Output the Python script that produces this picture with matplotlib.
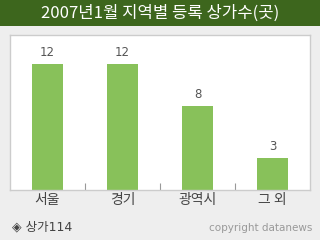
import matplotlib
matplotlib.use("Agg")
import matplotlib.pyplot as plt
from matplotlib.patches import Rectangle

plt.rcParams['font.family'] = ['Noto Sans CJK KR', 'DejaVu Sans']

categories = ["서울", "경기", "광역시", "그 외"]
values = [12, 12, 8, 3]
title = "2007년1월 지역별 등록 상가수(곳)"

fig = plt.figure(figsize=(3.2, 2.4), dpi=100)
fig.patch.set_facecolor("#eeeeee")

# title bar
fig.patches.append(Rectangle((0, 214 / 240), 1, 26 / 240, transform=fig.transFigure,
                             facecolor="#3d661d", edgecolor="none", zorder=0))
fig.text(0.5, 227 / 240, title, color="white", fontsize=12, ha="center", va="center")

# plot box: x 10..310, y 35..190 (from top)
ax = fig.add_axes([10 / 320, 50 / 240, 300 / 320, 155 / 240])
ax.set_facecolor("white")
x = range(len(categories))
ax.bar(x, values, width=31 / 75, color="#88c15a")
for i, v in zip(x, values):
    ax.text(i, v + 0.5, str(v), ha="center", va="bottom", fontsize=8.5, color="#555555",
            family="DejaVu Sans")

ax.set_xlim(-0.5, len(categories) - 0.5)
ax.set_ylim(0, 14.76)
ax.set_yticks([])
ax.set_xticks([i + 0.5 for i in range(len(categories) - 1)])
ax.set_xticklabels([])
ax.tick_params(axis="x", direction="in", length=5, color="#999999")
for s in ax.spines.values():
    s.set_color("#cccccc")
    s.set_linewidth(1)

for i, c in enumerate(categories):
    fig.text((10 + 75 * i + 37.5) / 320, 1 - 200 / 240, c, ha="center", va="center",
             fontsize=10, color="#444444")

fig.text(12 / 320, 1 - 227 / 240, "◈ 상가114", ha="left", va="center", fontsize=9,
         color="#444444", family=['DejaVu Sans', 'Noto Sans CJK KR'])
fig.text(312 / 320, 1 - 228 / 240, "copyright datanews", ha="right", va="center",
         fontsize=7.5, color="#999999", family="DejaVu Sans")

fig.savefig("out.png", dpi=100, facecolor=fig.get_facecolor())
